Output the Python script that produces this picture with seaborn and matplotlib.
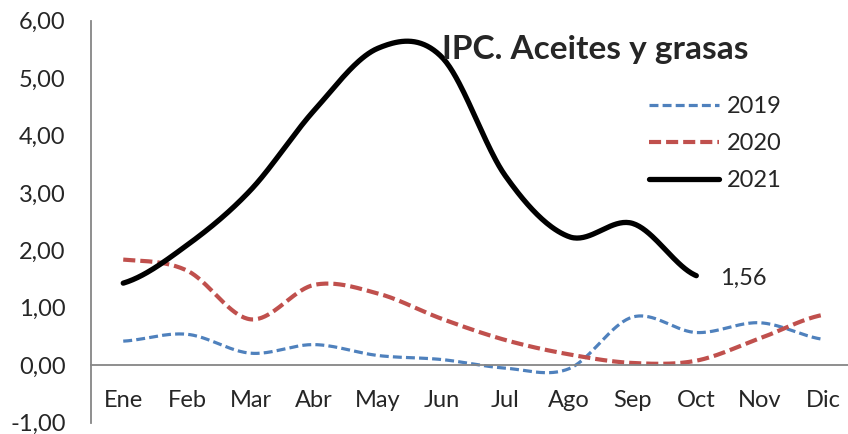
import numpy as np
import pandas as pd
import seaborn as sns
import matplotlib.pyplot as plt

meses = ["Ene", "Feb", "Mar", "Abr", "May", "Jun", "Jul", "Ago", "Sep", "Oct", "Nov", "Dic"]
ipc_2019 = [0.42, 0.54, 0.21, 0.36, 0.17, 0.10, -0.05, -0.06, 0.84, 0.57, 0.74, 0.45]
ipc_2020 = [1.84, 1.65, 0.80, 1.40, 1.25, 0.81, 0.44, 0.19, 0.04, 0.08, 0.47, 0.88]
ipc_2021 = [1.43, 2.09, 3.05, 4.44, 5.52, 5.37, 3.30, 2.24, 2.47, 1.56]
y_ticks = [-1, 0, 1, 2, 3, 4, 5, 6]


def smooth(vals, n=40):
    # curva suavizada tipo Excel (Catmull-Rom) entre los puntos mensuales
    v = np.asarray(vals, float)
    p = np.concatenate([[v[0]], v, [v[-1]]])
    xs, ys = [], []
    for i in range(len(v) - 1):
        t = np.linspace(0, 1, n, endpoint=(i == len(v) - 2))
        m0 = (p[i + 2] - p[i]) / 2
        m1 = (p[i + 3] - p[i + 1]) / 2
        h00 = 2 * t**3 - 3 * t**2 + 1
        h10 = t**3 - 2 * t**2 + t
        h01 = -2 * t**3 + 3 * t**2
        h11 = t**3 - t**2
        ys.append(h00 * v[i] + h10 * m0 + h01 * v[i + 1] + h11 * m1)
        xs.append(i + t)
    return pd.DataFrame({"x": np.concatenate(xs), "y": np.concatenate(ys)})


sns.set_style("white")
plt.rcParams["font.family"] = ["Lato", "DejaVu Sans"]

fig = plt.figure(figsize=(8.48, 4.34), dpi=100)
ax = fig.add_axes([91.4 / 848, (434 - 422.7) / 434, (855.5 - 91.4) / 848, (422.7 - 20.7) / 434])

series = [
    ("2019", ipc_2019, "#4F81BD", 2.3, [2.8, 1.3]),
    ("2020", ipc_2020, "#C0504D", 3.0, [2.9, 1.2]),
    ("2021", ipc_2021, "black", 3.8, None),
]
for name, vals, col, lw, dash in series:
    df = smooth(vals)
    sns.lineplot(data=df, x="x", y="y", color=col, lw=lw, ax=ax, label=name, sort=False)
    if dash:
        ax.lines[-1].set_dashes(dash)

ax.annotate("1,56", xy=(len(ipc_2021) - 1, ipc_2021[-1]), xytext=(17.3, -6.5),
            textcoords="offset points", va="baseline", ha="left", fontsize=17)

ax.set_xlim(-0.5, 11.5)
ax.set_ylim(-1, 6)
ax.set_xlabel("")
ax.set_ylabel("")

gris = "#868686"
for s in ["top", "right"]:
    ax.spines[s].set_visible(False)
ax.spines["bottom"].set_position(("data", 0))
ax.spines["bottom"].set_color(gris)
ax.spines["left"].set_color(gris)
ax.spines["bottom"].set_linewidth(1.3)
ax.spines["left"].set_linewidth(1.3)

ax.set_xticks(np.arange(0.5, 11.5, 1), labels=[])
ax.set_xticks(range(12), labels=meses, minor=True)
ax.tick_params(axis="x", which="major", direction="out", length=5.8, width=1.3, color=gris)
ax.tick_params(axis="x", which="minor", length=0, pad=17.5, labelsize=17)
ax.set_yticks(y_ticks, labels=[f"{v:.2f}".replace(".", ",") for v in y_ticks])
ax.tick_params(axis="y", direction="out", length=5.8, width=1.3, color=gris, pad=12.7, labelsize=17)

fig.text(442 / 848, (434 - 59) / 434, "IPC. Aceites y grasas", fontsize=24, fontweight="bold",
         ha="left", va="baseline")

ax.legend(loc="upper left", bbox_to_anchor=(649 / 848, (434 - 96) / 434), bbox_transform=fig.transFigure,
          frameon=False, fontsize=17, handlelength=2.95, handletextpad=0.35, labelspacing=0.68,
          borderpad=0, borderaxespad=0)

fig.savefig("out.png", dpi=100)
